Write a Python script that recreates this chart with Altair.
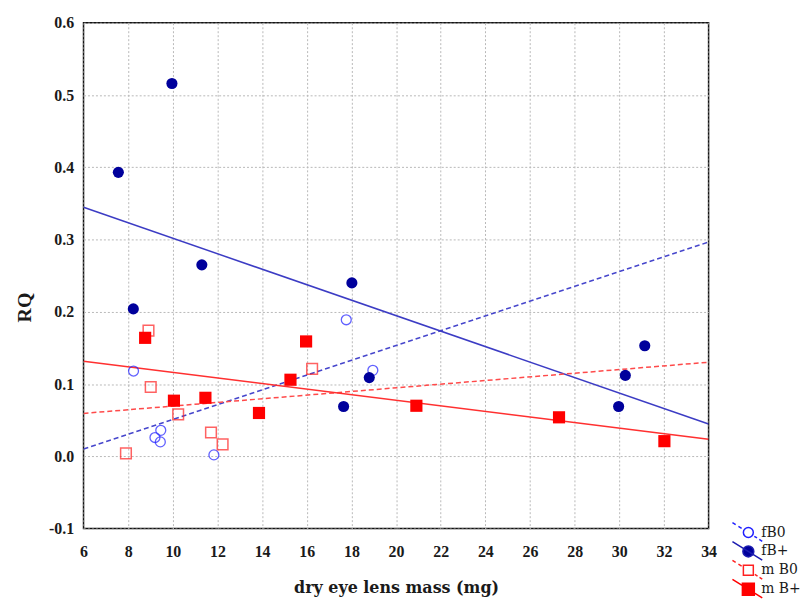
import altair as alt
import pandas as pd

series_names = ["fB0", "fB+", "m B0", "m B+"]

fB0_mass = [8.24, 9.46, 9.2, 9.44, 11.84, 17.77, 18.96]
fB0_rq = [0.118, 0.036, 0.026, 0.020, 0.002, 0.189, 0.119]

fBp_mass = [7.56, 9.96, 8.23, 11.3, 18.02, 17.65, 18.8, 29.97, 30.27, 31.14]
fBp_rq = [0.393, 0.516, 0.204, 0.265, 0.240, 0.069, 0.109, 0.069, 0.112, 0.153]

mB0_mass = [7.9, 8.91, 9.01, 10.24, 11.71, 12.23, 16.24]
mB0_rq = [0.004, 0.174, 0.096, 0.058, 0.033, 0.0165, 0.121]

mBp_mass = [8.76, 10.05, 11.46, 13.86, 15.27, 15.97, 20.91, 27.3, 32.02]
mBp_rq = [0.164, 0.077, 0.081, 0.060, 0.106, 0.159, 0.070, 0.054, 0.021]

x_ticks = list(range(6, 35, 2))
y_ticks = [-0.1, 0.0, 0.1, 0.2, 0.3, 0.4, 0.5, 0.6]

rows = []
for name, xs, ys in [("fB0", fB0_mass, fB0_rq), ("fB+", fBp_mass, fBp_rq),
                     ("m B0", mB0_mass, mB0_rq), ("m B+", mBp_mass, mBp_rq)]:
    for a, b in zip(xs, ys):
        rows.append({"series": name, "mass": a, "rq": b})
df = pd.DataFrame(rows)

x_enc = alt.X("mass:Q", scale=alt.Scale(domain=[6, 34], nice=False, zero=False),
              axis=alt.Axis(values=x_ticks, title="dry eye lens mass (mg)",
                            labelFont="Liberation Serif", labelFontWeight="bold",
                            labelFontSize=16, labelColor="#1a1a1a",
                            labelBaseline="alphabetic", labelPadding=28,
                            ticks=False, tickSize=0, domain=False,
                            gridColor="#b8b8b8", gridDash=[2, 2], gridWidth=1,
                            titleFont="DejaVu Serif", titleFontWeight="bold",
                            titleFontSize=16, titleColor="#1a1a1a",
                            titleBaseline="alphabetic", titleY=64, labelFlush=False))
y_enc = alt.Y("rq:Q", scale=alt.Scale(domain=[-0.1, 0.6], nice=False, zero=False),
              axis=alt.Axis(values=y_ticks, title="RQ",
                            labelExpr="replace(format(datum.value, '.1f'), '\u2212', '-')",
                            labelFont="Liberation Serif", labelFontWeight="bold",
                            labelFontSize=16, labelColor="#1a1a1a",
                            labelPadding=10, labelBaseline="middle",
                            ticks=False, tickSize=0, domain=False,
                            gridColor="#b8b8b8", gridDash=[2, 2], gridWidth=1,
                            titleFont="Liberation Serif", titleFontWeight="bold",
                            titleFontSize=20, titleColor="#1a1a1a",
                            titleX=-59, titleY=286, titleBaseline="middle",
                            titleAlign="center", labelFlush=False))

base = alt.Chart(df)

line_styles = {
    "fB0": ("#4646cc", [5, 3]),
    "fB+": ("#3c3cc4", None),
    "m B0": ("#ff4a4a", [5, 3]),
    "m B+": ("#ff3030", None),
}

layers = []
for name in series_names:
    col, dash = line_styles[name]
    kw = dict(color=col, strokeWidth=1.5, clip=True)
    if dash:
        kw["strokeDash"] = dash
    layers.append(
        base.transform_filter(alt.datum.series == name)
        .transform_regression("mass", "rq", extent=[6, 34])
        .mark_line(**kw)
        .encode(x=x_enc, y=y_enc)
    )

point_styles = {
    "fB0": dict(shape="circle", filled=False, stroke="#1f1fff", strokeWidth=1.3, size=100),
    "fB+": dict(shape="circle", filled=True, color="#00009c", size=125, opacity=1),
    "m B0": dict(shape="square", filled=False, stroke="#ff2020", strokeWidth=1.5, size=115),
    "m B+": dict(shape="square", filled=True, color="#ff0000", size=150, opacity=1),
}
for name in series_names:
    layers.append(
        base.transform_filter(alt.datum.series == name)
        .mark_point(**point_styles[name])
        .encode(x=x_enc, y=y_enc)
    )

legend_paths = [
    "M-3.2,-2L-2.55,-1.6M-2.0,-1.25L-1.35,-0.84M1.2,0.75L1.75,1.09M2.2,1.37L2.8,1.75M1,0A1,1,0,1,1,-1,0A1,1,0,1,1,1,0Z",
    "M-3.2,-2L2.8,1.75M1.1,0A1.1,1.1,0,1,1,-1.1,0A1.1,1.1,0,1,1,1.1,0Z",
    "M-3.2,-2L-2.55,-1.6M-2.0,-1.25L-1.35,-0.84M1.3,0.81L1.85,1.15M2.25,1.4L2.8,1.75M-1,-1H1V1H-1Z",
    "M-3.2,-2L2.8,1.75M-1.2,-1.2H1.2V1.2H-1.2Z",
]
legend = alt.Legend(title=None, orient="none", legendX=662, legendY=506,
                    labelFont="DejaVu Serif", labelFontSize=14, labelColor="#1a1a1a",
                    symbolSize=100, symbolStrokeWidth=1.5, symbolOpacity=1,
                    labelOffset=6, rowPadding=-8, padding=0)
legend_layer = base.mark_point(opacity=0, filled=True).encode(
    x=x_enc, y=y_enc,
    shape=alt.Shape("series:N", scale=alt.Scale(domain=series_names, range=legend_paths), legend=legend),
    stroke=alt.Stroke("series:N", scale=alt.Scale(domain=series_names,
                      range=["#1f1fff", "#1c1cb0", "#ff2020", "#ff0000"]), legend=legend),
    fill=alt.Fill("series:N", scale=alt.Scale(domain=series_names,
                  range=["transparent", "#00009c", "transparent", "#ff0000"]), legend=legend),
)
layers.append(legend_layer)

chart = alt.layer(*layers).properties(
    width=629, height=509,
    autosize=alt.AutoSizeParams(type="none"),
    padding={"left": 76, "top": 13, "right": 95, "bottom": 72},
).configure_view(stroke="#111111", strokeWidth=1.5)

chart.save("out.html", embed_options={"renderer": "svg", "actions": False})
